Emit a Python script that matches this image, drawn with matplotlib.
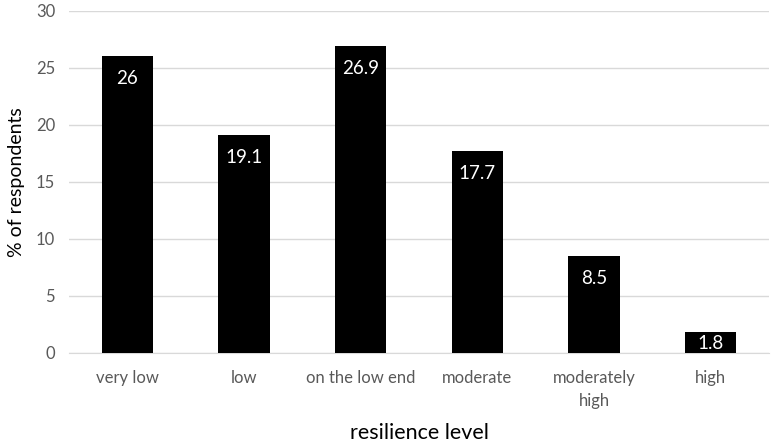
import numpy as np
import matplotlib.pyplot as plt

# дані з графіка
categories = ["very low", "low", "on the low end", "moderate", "moderately\nhigh", "high"]
values = [26, 19.1, 26.9, 17.7, 8.5, 1.8]
value_labels = ["26", "19.1", "26.9", "17.7", "8.5", "1.8"]
y_ticks = [0, 5, 10, 15, 20, 25, 30]

plt.rcParams['font.family'] = ['Lato', 'DejaVu Sans']

fig = plt.figure(figsize=(7.73, 4.44), dpi=100)
ax = fig.add_axes([0.0893, 0.205, 0.9055, 0.771])

x = np.arange(len(categories))
bars = ax.bar(x, values, width=0.44, color='black', zorder=3)

for bar, lab in zip(bars, value_labels):
    cx = bar.get_x() + bar.get_width() / 2
    if bar.get_height() < 3:
        # низький стовпчик - підпис притиснутий до осі
        ax.annotate(lab, (cx, 0), xytext=(0, 0.5), textcoords='offset points',
                    ha='center', va='bottom', color='white', fontsize=13.5, zorder=4)
    else:
        ax.annotate(lab, (cx, bar.get_height()), xytext=(0, -10), textcoords='offset points',
                    ha='center', va='top', color='white', fontsize=13.5, zorder=4)

ax.set_xlim(-0.5, len(categories) - 0.5)
ax.set_ylim(0, 30)
ax.set_yticks(y_ticks)
ax.set_xticks(x)
ax.set_xticklabels(categories, linespacing=1.55)
ax.tick_params(axis='both', length=0, labelsize=12, labelcolor='#595959')
ax.tick_params(axis='x', pad=12)
ax.tick_params(axis='y', pad=10)

ax.grid(axis='y', color='#d9d9d9', linewidth=1, zorder=0)
for s in ['top', 'right', 'left']:
    ax.spines[s].set_visible(False)
ax.spines['bottom'].set_color('#d9d9d9')

ax.set_ylabel("% of respondents", fontsize=14, color='black', labelpad=8)
ax.set_xlabel("resilience level", fontsize=15.5, color='black', labelpad=10)

plt.savefig("out.png", dpi=100)
